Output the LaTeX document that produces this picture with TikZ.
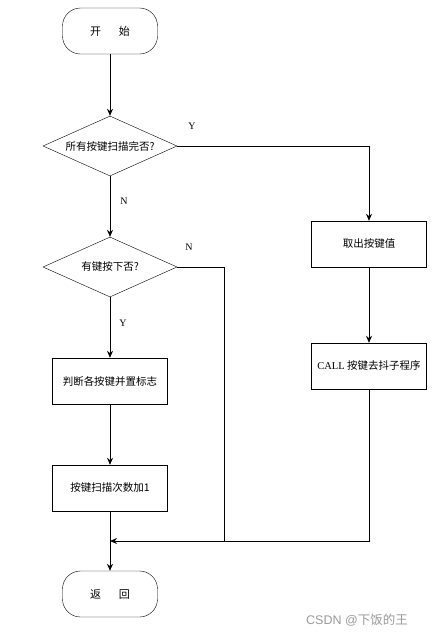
\documentclass[tikz,border=0pt]{standalone}
\usepackage{fontspec}
\setmainfont{Liberation Serif}
\newfontfamily\cjk{Noto Sans CJK SC}
\usetikzlibrary{shapes.geometric,arrows.meta}

\begin{document}
\begin{tikzpicture}[x=1pt, y=-1pt,
        term/.style={draw, rounded corners=18pt, minimum width=95pt, minimum height=46pt, font=\cjk\fontsize{11}{13}\selectfont},
        proc/.style={draw, minimum width=115pt, minimum height=46pt, font=\cjk\fontsize{10.5}{13}\selectfont},
        ask/.style={draw, diamond, aspect=2.23, minimum width=134pt, minimum height=60pt, inner sep=0pt, font=\cjk\fontsize{10.5}{13}\selectfont},
        flow/.style={-{Stealth[length=7pt, width=6pt]}, line width=0.8pt},
        yn/.style={font=\fontsize{10}{12}\selectfont}]

            \useasboundingbox (0,0) rectangle (440,638);

            % --------------------------------------------------
            % left column
            % --------------------------------------------------
            \node[term] (start) at (110,31) {开\hspace{18pt}始};
            \node[ask] (allkeys) at (110,146) {所有按键扫描完否?};
            \node[ask] (pressed) at (110,267) {有键按下否?};
            \node[proc] (setflag) at (110,381) {判断各按键并置标志};
            \node[proc] (countup) at (110,488) {按键扫描次数加1};
            \node[term] (back) at (110,594) {返\hspace{18pt}回};

            % --------------------------------------------------
            % right column
            % --------------------------------------------------
            \node[proc] (readkey) at (369,244) {取出按键值};
            \node[proc] (debounce) at (369,366) {{\rmfamily CALL} 按键去抖子程序};

            \coordinate (merge) at (110,541);
            \coordinate (nojoin) at (224,541);

            % connectors
            \draw[flow] (start) -- (allkeys);
            \draw[flow] (allkeys) -- (pressed);
            \draw[flow] (pressed) -- (setflag);
            \draw[flow] (setflag) -- (countup);
            \draw[flow] (countup) -- (back);
            \draw[flow] (allkeys.east) -| (readkey.north);
            \draw[flow] (readkey) -- (debounce);
            \draw[flow] (debounce.south) |- (merge);
            \draw[line width=0.8pt] (pressed.east) -| (nojoin);

            % branch labels
            \node[yn] (ylab1) at (192,126) {Y};
            \node[yn] (nlab1) at (124,201) {N};
            \node[yn] (nlab2) at (189,247) {N};
            \node[yn] (ylab2) at (123,323) {Y};

            \node[font=\fontsize{12.5}{14}\selectfont\cjk, text=gray!80] (mark) at (357,620) {\fontspec{Liberation Sans}CSDN @{\cjk 下饭的王}};

        \end{tikzpicture}
\end{document}
